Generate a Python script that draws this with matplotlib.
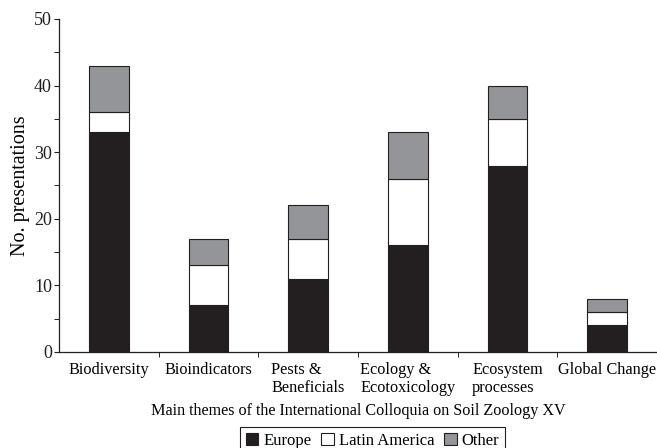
import numpy as np
import matplotlib
matplotlib.use("Agg")
import matplotlib.pyplot as plt

plt.rcParams['font.family'] = ['Liberation Serif', 'DejaVu Serif']

# データ
themes = ['Biodiversity', 'Bioindicators', 'Pests &\nBeneficials',
          'Ecology &\nEcotoxicology', 'Ecosystem\nprocesses', 'Global Change']
europe = [33, 7, 11, 16, 28, 4]
latin_america = [3, 6, 6, 10, 7, 2]
other = [7, 4, 5, 7, 5, 2]

c_black = '#231f20'
c_gray = '#939598'
edge = '#231f20'

fig = plt.figure(figsize=(6.57, 4.48), dpi=100)
ax = fig.add_axes([0.0898, 0.2143, 0.9102, 0.7433])

x = np.arange(len(themes))
w = 0.4
eu = np.array(europe)
la = np.array(latin_america)
ot = np.array(other)
ax.bar(x, eu, w, color=c_black, edgecolor=edge, linewidth=0.8, label='Europe')
ax.bar(x, la, w, bottom=eu, color='white', edgecolor=edge, linewidth=0.8, label='Latin America')
ax.bar(x, ot, w, bottom=eu + la, color=c_gray, edgecolor=edge, linewidth=0.8, label='Other')

ax.set_xlim(-0.5, len(themes) - 0.5)
ax.set_ylim(0, 50)
ax.set_yticks(np.arange(0, 51, 10))
ax.set_yticks(np.arange(5, 50, 10), minor=True)
ax.tick_params(axis='y', which='major', direction='out', length=3.6, pad=1.5,
               labelsize=13, colors='#231f20')
ax.tick_params(axis='y', which='minor', direction='out', length=3.6)

# x軸の目盛りはカテゴリの境界に
ax.set_xticks(x)
ax.set_xticklabels(themes, fontsize=11.7, multialignment='left')
ax.set_xticks(np.arange(0.5, len(themes) - 0.5, 1), minor=True)
ax.tick_params(axis='x', which='major', length=0, pad=7)
ax.tick_params(axis='x', which='minor', direction='out', length=3.6)

for s in ['top', 'right']:
    ax.spines[s].set_visible(False)
for s in ['left', 'bottom']:
    ax.spines[s].set_color('#231f20')
    ax.spines[s].set_linewidth(0.9)

ax.set_ylabel('No. presentations', fontsize=14.5, labelpad=3)
ax.set_xlabel('Main themes of the International Colloquia on Soil Zoology XV',
              fontsize=11.6, labelpad=5)

leg = fig.legend(loc='upper center', bbox_to_anchor=(0.567, 0.047), ncol=3,
                 fontsize=12, frameon=True, fancybox=False, framealpha=1,
                 edgecolor='#231f20', handlelength=0.75, handleheight=0.75,
                 handletextpad=0.3, columnspacing=0.6, borderpad=0.35,
                 borderaxespad=0)
leg.get_frame().set_linewidth(0.8)

fig.savefig('out.png', dpi=100)
